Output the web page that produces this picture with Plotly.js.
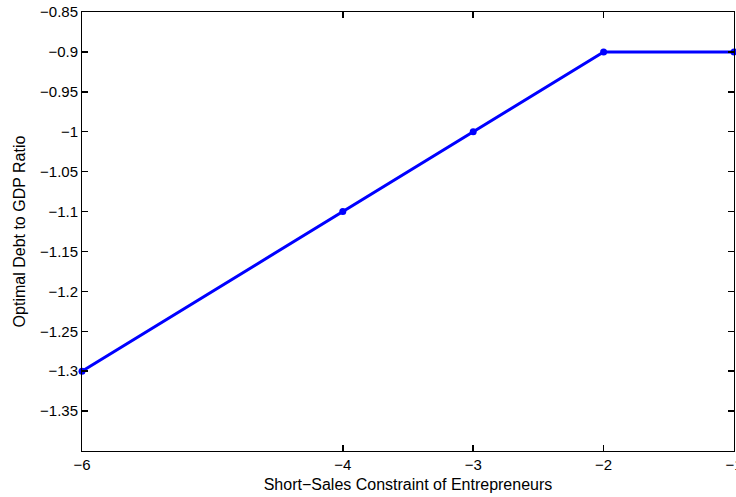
<!DOCTYPE html>
<html>
<head>
<meta charset="utf-8">
<script src="https://cdn.plot.ly/plotly-3.0.1.min.js"></script>
<style>html,body{margin:0;padding:0;background:#fff;}#chart{width:736px;height:497px;}</style>
</head>
<body>
<div id="chart"></div>
<script>
var constraint = [-6, -4, -3, -2, -1];
var debtRatio = [-1.3, -1.1, -1.0, -0.9, -0.9];
var xTicks = [-6, -4, -3, -2, -1];
var xTickLabels = ['\u22126', '\u22124', '\u22123', '\u22122', '\u22121'];
var yTicks = [-1.35, -1.3, -1.25, -1.2, -1.15, -1.1, -1.05, -1, -0.95, -0.9, -0.85];
var yTickLabels = ['\u22121.35', '\u22121.3', '\u22121.25', '\u22121.2', '\u22121.15', '\u22121.1', '\u22121.05', '\u22121', '\u22120.95', '\u22120.9', '\u22120.85'];

var trace = {
  x: constraint,
  y: debtRatio,
  mode: 'lines+markers',
  line: {color: '#0000ff', width: 3},
  marker: {color: '#0000ff', size: 7},
  cliponaxis: false,
  showlegend: false
};

var FONT = 'Liberation Sans, Arial, sans-serif';
var axisCommon = {
  showgrid: false,
  zeroline: false,
  showline: true,
  linecolor: '#000000',
  linewidth: 1,
  mirror: 'ticks',
  ticks: 'inside',
  ticklen: 6,
  tickwidth: 1.5,
  tickcolor: '#000000',
  ticklabeloverflow: 'allow',
  tickfont: {family: FONT, size: 15, color: '#000'}
};

var layout = {
  width: 736,
  height: 497,
  margin: {l: 82, r: 2, t: 12, b: 46},
  paper_bgcolor: '#fff',
  plot_bgcolor: 'rgba(0,0,0,0)',
  xaxis: Object.assign({}, axisCommon, {
    range: [-6, -1],
    tickmode: 'array',
    tickvals: xTicks,
    ticktext: xTickLabels,
    title: {text: 'Short\u2212Sales Constraint of Entrepreneurs', font: {family: FONT, size: 16, color: '#000'}, standoff: 6}
  }),
  yaxis: Object.assign({}, axisCommon, {
    range: [-1.4, -0.85],
    tickmode: 'array',
    tickvals: yTicks,
    ticktext: yTickLabels,
    title: {text: 'Optimal Debt to GDP Ratio', font: {family: FONT, size: 16, color: '#000'}, standoff: 10}
  })
};

Plotly.newPlot('chart', [trace], layout, {displayModeBar: false, staticPlot: true});
</script>
</body>
</html>
